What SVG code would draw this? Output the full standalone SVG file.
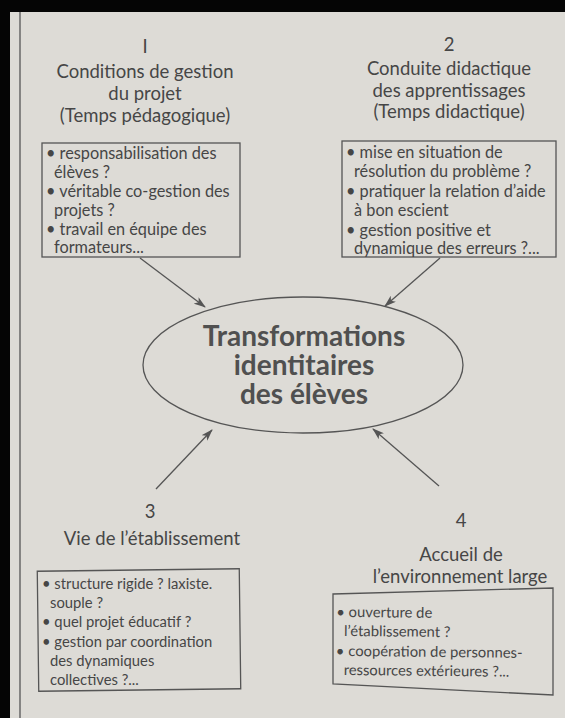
<svg xmlns="http://www.w3.org/2000/svg" width="565" height="718" viewBox="0 0 565 718">
<defs>
<style>
.t{font-family:Lato,"Open Sans","DejaVu Sans",sans-serif;fill:#464646}
.h{font-size:18.5px;text-anchor:middle}
.b{font-size:16.3px}
.s{font-size:14.8px}
.c{font-family:Lato,"Open Sans",sans-serif;font-weight:bold;font-size:28px;fill:#505050;text-anchor:middle}
.box{fill:none;stroke:#555;stroke-width:1.3}
.con{stroke:#555;stroke-width:1.3;fill:none;marker-end:url(#ah)}
</style>
<marker id="ah" viewBox="0 0 12 8" refX="11" refY="4" markerWidth="12" markerHeight="8" markerUnits="userSpaceOnUse" orient="auto">
<path d="M0,0 L12,4 L0,8 L3,4 Z" fill="#555"/>
</marker>
</defs>
<rect x="0" y="0" width="565" height="718" fill="#dddbd6"/>
<rect x="0" y="0" width="565" height="12" fill="#050505"/>
<rect x="0" y="0" width="10" height="718" fill="#050505"/>
<line x1="20" y1="12" x2="20" y2="718" stroke="#555" stroke-width="1.3"/>

<g id="node1">
<text class="t h" x="145" y="53">I</text>
<text class="t h" x="145" y="78">Conditions de gestion</text>
<text class="t h" x="145" y="100">du projet</text>
<text class="t h" x="145" y="122">(Temps pédagogique)</text>
<rect class="box" x="42" y="143" width="198" height="114"/>
<text class="t b" x="46" y="159">• responsabilisation des</text>
<text class="t b" x="54" y="178">élèves ?</text>
<text class="t b" x="46" y="197">• véritable co-gestion des</text>
<text class="t b" x="54" y="216">projets ?</text>
<text class="t b" x="46" y="235">• travail en équipe des</text>
<text class="t b" x="54" y="253">formateurs...</text>
</g>

<g id="node2">
<text class="t h" x="449" y="51">2</text>
<text class="t h" x="449" y="75">Conduite didactique</text>
<text class="t h" x="449" y="97">des apprentissages</text>
<text class="t h" x="449" y="118">(Temps didactique)</text>
<rect class="box" x="342" y="141" width="214" height="116"/>
<text class="t b" x="346" y="158">• mise en situation de</text>
<text class="t b" x="354" y="177">résolution du problème ?</text>
<text class="t b" x="346" y="197">• pratiquer la relation d’aide</text>
<text class="t b" x="354" y="216">à bon escient</text>
<text class="t b" x="346" y="236">• gestion positive et</text>
<text class="t b" x="354" y="254">dynamique des erreurs ?...</text>
</g>

<g id="center">
<ellipse cx="303" cy="365" rx="160" ry="68" fill="none" stroke="#555" stroke-width="1.3"/>
<text class="c" x="304" y="346">Transformations</text>
<text class="c" x="304" y="375">identitaires</text>
<text class="c" x="304" y="404">des élèves</text>
</g>

<g id="node3">
<text class="t h" x="150" y="518">3</text>
<text class="t h" x="152" y="545">Vie de l’établissement</text>
<rect class="box" x="38" y="570" width="202" height="120" transform="rotate(-0.7 139 630)"/>
<text class="t s" x="42" y="589">• structure rigide ? laxiste.</text>
<text class="t s" x="50" y="608">souple ?</text>
<text class="t s" x="42" y="627">• quel projet éducatif ?</text>
<text class="t s" x="42" y="647">• gestion par coordination</text>
<text class="t s" x="50" y="666">des dynamiques</text>
<text class="t s" x="50" y="685">collectives ?...</text>
</g>

<g id="node4">
<text class="t h" x="461" y="527">4</text>
<text class="t h" x="461" y="561">Accueil de</text>
<text class="t h" x="460" y="583">l’environnement large</text>
<polygon class="box" points="333,594 553,588 553,695 333,684"/>
<g transform="rotate(0.6 443 641)">
<text class="t s" x="336" y="618">• ouverture de</text>
<text class="t s" x="344" y="637">l’établissement ?</text>
<text class="t s" x="336" y="657">• coopération de personnes-</text>
<text class="t s" x="344" y="676">ressources extérieures ?...</text>
</g>
</g>

<g id="connectors">
<line class="con" x1="140" y1="258" x2="205" y2="307"/>
<line class="con" x1="440" y1="258" x2="385" y2="306"/>
<line class="con" x1="156" y1="489" x2="212" y2="430"/>
<line class="con" x1="439" y1="486" x2="373" y2="429"/>
</g>
</svg>
